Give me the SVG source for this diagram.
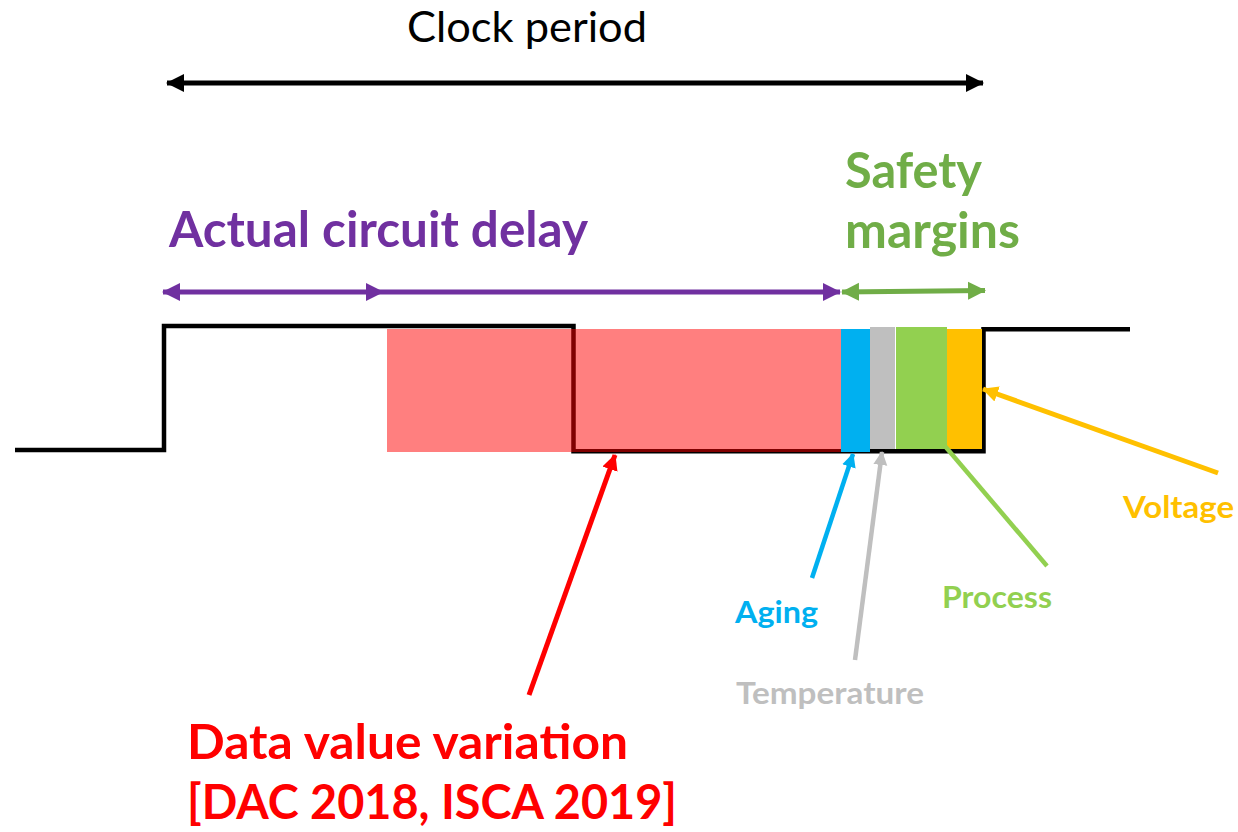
<svg xmlns="http://www.w3.org/2000/svg" width="1238" height="832" viewBox="0 0 1238 832">
<style>
text{font-family:Lato,"Liberation Sans",sans-serif;}
.b{font-weight:bold;}
.ln{fill:none;stroke-width:5;}
</style>
<defs>
<marker id="hk" markerUnits="userSpaceOnUse" markerWidth="20" markerHeight="20" refX="17" refY="9" orient="auto-start-reverse" viewBox="0 0 20 18"><path d="M0,0 L18,9 L0,18 z" fill="#000"/></marker>
<marker id="hp" markerUnits="userSpaceOnUse" markerWidth="20" markerHeight="20" refX="17" refY="9" orient="auto-start-reverse" viewBox="0 0 20 18"><path d="M0,0 L18,9 L0,18 z" fill="#7030A0"/></marker>
<marker id="hg" markerUnits="userSpaceOnUse" markerWidth="20" markerHeight="20" refX="17" refY="9" orient="auto-start-reverse" viewBox="0 0 20 18"><path d="M0,0 L18,9 L0,18 z" fill="#70AD47"/></marker>
<marker id="hr" markerUnits="userSpaceOnUse" markerWidth="18" markerHeight="18" refX="15" refY="8" orient="auto" viewBox="0 0 18 16"><path d="M0,0 L16,8 L0,16 z" fill="#FF0000"/></marker>
<marker id="hb" markerUnits="userSpaceOnUse" markerWidth="16" markerHeight="16" refX="13" refY="7" orient="auto" viewBox="0 0 16 14"><path d="M0,0 L14,7 L0,14 z" fill="#00B0F0"/></marker>
<marker id="hgr" markerUnits="userSpaceOnUse" markerWidth="16" markerHeight="16" refX="13" refY="7" orient="auto" viewBox="0 0 16 14"><path d="M0,0 L14,7 L0,14 z" fill="#BFBFBF"/></marker>
<marker id="ho" markerUnits="userSpaceOnUse" markerWidth="18" markerHeight="18" refX="15" refY="8" orient="auto" viewBox="0 0 18 16"><path d="M0,0 L16,8 L0,16 z" fill="#FFC000"/></marker>
</defs>
<rect width="1238" height="832" fill="#fff"/>

<g id="waveform">
<path d="M15,450 H164 V326 H573.5 V451.3 H983.5 V329.3 H1130" fill="none" stroke="#000" stroke-width="4.5"/>
</g>
<g id="data-variation-band">
<rect x="387" y="329" width="454" height="123" fill="#FF0000" fill-opacity="0.5"/>
</g>
<g id="aging-band"><rect x="841" y="329" width="29" height="123" fill="#00B0F0"/></g>
<g id="temperature-band"><rect x="870" y="327" width="25" height="122" fill="#BFBFBF"/></g>
<g id="process-band"><rect x="896" y="327" width="51" height="122" fill="#92D050"/></g>
<g id="voltage-band"><rect x="947" y="329" width="35" height="120" fill="#FFC000"/></g>

<g id="connectors">
<line x1="167" y1="83" x2="983" y2="83" class="ln" stroke="#000" marker-start="url(#hk)" marker-end="url(#hk)"/>
<line x1="163" y1="292" x2="383" y2="292" class="ln" stroke="#7030A0" marker-start="url(#hp)" marker-end="url(#hp)"/>
<line x1="383" y1="292" x2="840" y2="292" class="ln" stroke="#7030A0" marker-end="url(#hp)"/>
<line x1="842" y1="292" x2="985" y2="290.5" class="ln" stroke="#70AD47" marker-start="url(#hg)" marker-end="url(#hg)"/>
<line x1="529" y1="695" x2="615" y2="455" stroke="#FF0000" stroke-width="5" marker-end="url(#hr)"/>
<line x1="812" y1="578" x2="853" y2="454" stroke="#00B0F0" stroke-width="4.5" marker-end="url(#hb)"/>
<line x1="855" y1="660" x2="882" y2="452" stroke="#BFBFBF" stroke-width="4.5" marker-end="url(#hgr)"/>
<line x1="944" y1="445" x2="1047" y2="566" stroke="#92D050" stroke-width="4.5"/>
<line x1="1218" y1="473" x2="983" y2="389" stroke="#FFC000" stroke-width="5" marker-end="url(#ho)"/>
</g>

<g id="label-clock"><text x="407" y="42" font-size="43" textLength="240" lengthAdjust="spacingAndGlyphs" fill="#000">Clock period</text></g>
<g id="label-actual"><text class="b" x="169" y="247" font-size="49" textLength="419" lengthAdjust="spacingAndGlyphs" fill="#7030A0">Actual circuit delay</text></g>
<g id="label-safety">
<text class="b" x="845" y="188" font-size="49" textLength="137" lengthAdjust="spacingAndGlyphs" fill="#70AD47">Safety</text>
<text class="b" x="845" y="248" font-size="49" textLength="175" lengthAdjust="spacingAndGlyphs" fill="#70AD47">margins</text>
</g>
<g id="label-aging"><text class="b" x="735" y="623" font-size="31" textLength="83" lengthAdjust="spacingAndGlyphs" fill="#00B0F0">Aging</text></g>
<g id="label-temperature"><text class="b" x="736" y="704" font-size="31" textLength="188" lengthAdjust="spacingAndGlyphs" fill="#BFBFBF">Temperature</text></g>
<g id="label-process"><text class="b" x="942" y="608" font-size="31" textLength="110" lengthAdjust="spacingAndGlyphs" fill="#92D050">Process</text></g>
<g id="label-voltage"><text class="b" x="1123" y="518" font-size="31" textLength="111" lengthAdjust="spacingAndGlyphs" fill="#FFC000">Voltage</text></g>
<g id="label-data">
<text class="b" x="187" y="759" font-size="47" textLength="441" lengthAdjust="spacingAndGlyphs" fill="#FF0000">Data value variation</text>
<text class="b" x="187" y="819" font-size="47" textLength="490" lengthAdjust="spacingAndGlyphs" fill="#FF0000">[DAC 2018, ISCA 2019]</text>
</g>
</svg>
